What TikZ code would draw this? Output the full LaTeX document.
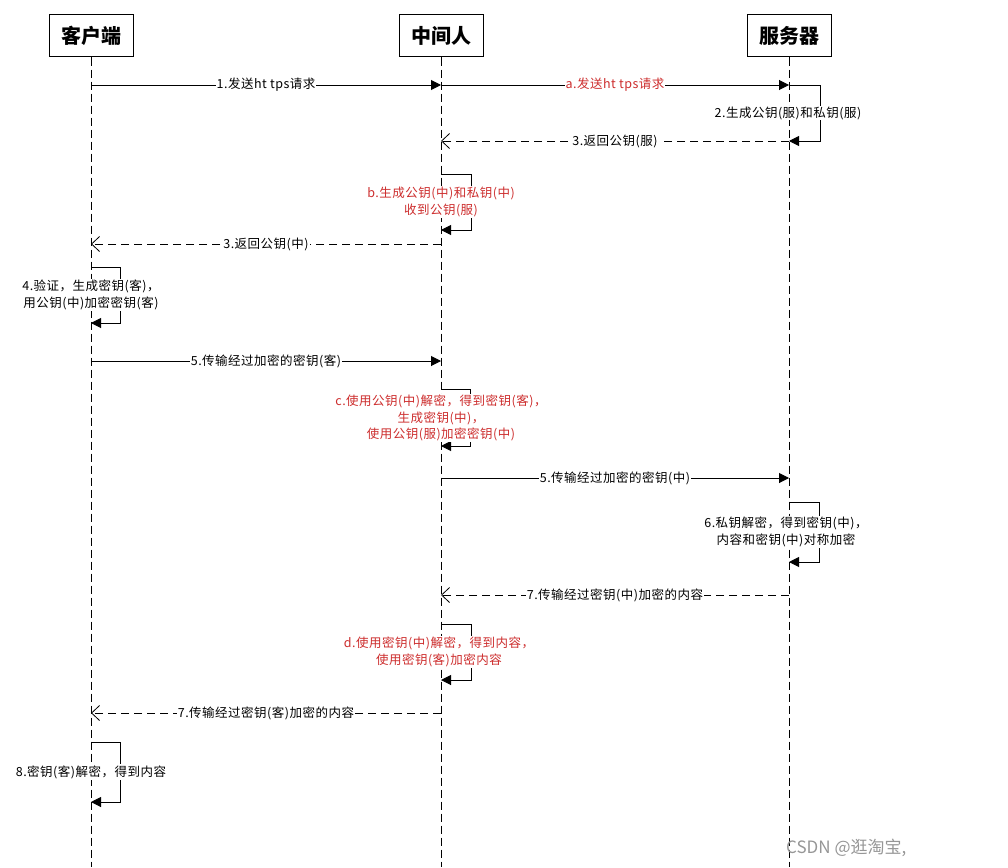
\documentclass[tikz,border=0pt]{standalone}
\usepackage{fontspec}
\setmainfont{Noto Sans CJK SC}
\newfontfamily\lblfont[LetterSpace=4]{Noto Sans CJK SC}
\usetikzlibrary{arrows.meta}
\definecolor{redtxt}{RGB}{205,45,45}
\definecolor{wm}{RGB}{150,150,150}
\begin{document}
\begin{tikzpicture}[x=1pt,y=-1pt,
  actor/.style={draw,line width=1pt,minimum width=84pt,minimum height=42pt,inner sep=0pt,font=\fontsize{20}{22}\selectfont\bfseries},
  life/.style={line width=1pt,dash pattern=on 8pt off 4pt},
  sync/.style={line width=1pt,-{Triangle[length=10pt,width=10pt]}},
  ret/.style={line width=1pt,dash pattern=on 8pt off 5pt,-{Straight Barb[length=8pt,width=15pt,line width=0.8pt]}},
  lbl/.style={fill=white,inner sep=1pt,font=\lblfont\fontsize{12.5}{14}\selectfont},
  note/.style={fill=white,inner sep=1pt,align=center,font=\lblfont\fontsize{12.5}{16.5}\selectfont},
  rednote/.style={note,text=redtxt}
]
\useasboundingbox (0,0) rectangle (1008,867);
% actors
\node[actor] (C) at (91,36) {客户端};
\node[actor] (M) at (441,36) {中间人};
\node[actor] (S) at (789,36) {服务器};
\coordinate (Cend) at (91,867);
\coordinate (Mend) at (441,867);
\coordinate (Send) at (789,867);
\draw[life] (C.south) -- (Cend);
\draw[life] (M.south) -- (Mend);
\draw[life] (S.south) -- (Send);
% coordinates on lifelines
\coordinate (c1) at (91,85);   \coordinate (m1) at (441,85);  \coordinate (s1) at (789,85);
\coordinate (s2) at (789,141); \coordinate (m2) at (441,141);
\coordinate (mb1) at (441,174); \coordinate (mb2) at (441,230);
\coordinate (m3) at (441,244); \coordinate (c3) at (91,244);
\coordinate (c41) at (91,267); \coordinate (c42) at (91,323);
\coordinate (c5) at (91,361);  \coordinate (m5) at (441,361);
\coordinate (mc1) at (441,389); \coordinate (mc2) at (441,446);
\coordinate (m6) at (441,478); \coordinate (s6) at (789,478);
\coordinate (s61) at (789,502); \coordinate (s62) at (789,562);
\coordinate (s7) at (789,595); \coordinate (m7) at (441,595);
\coordinate (md1) at (441,624); \coordinate (md2) at (441,680);
\coordinate (m8) at (441,713); \coordinate (c8) at (91,713);
\coordinate (c81) at (91,742); \coordinate (c82) at (91,802);
% messages
\draw[sync] (c1) -- node[lbl]{1.发送ht tps请求} (m1);
\draw[sync] (m1) -- node[lbl,text=redtxt]{a.发送ht tps请求} (s1);
\draw[sync] (s1) -- ++(31,0) |- (s2);
\node[note] (n2) at (788,113) {2.生成公钥(服)和私钥(服)};
\draw[ret] (s2) -- node[lbl]{3.返回公钥(服)} (m2);
\draw[sync] (mb1) -- ++(30,0) |- (mb2);
\node[rednote] (nb) at (441,202) {b.生成公钥(中)和私钥(中)\\收到公钥(服)};
\draw[ret] (m3) -- node[lbl]{3.返回公钥(中)} (c3);
\draw[sync] (c41) -- ++(29,0) |- (c42);
\node[note] (n4) at (91,295) {4.验证，生成密钥(客)，\\用公钥(中)加密密钥(客)};
\draw[sync] (c5) -- node[lbl]{5.传输经过加密的密钥(客)} (m5);
\draw[sync] (mc1) -- ++(29,0) |- (mc2);
\node[rednote] (nc) at (441,418) {c.使用公钥(中)解密，得到密钥(客)，\\生成密钥(中)，\\使用公钥(服)加密密钥(中)};
\draw[sync] (m6) -- node[lbl]{5.传输经过加密的密钥(中)} (s6);
\draw[sync] (s61) -- ++(30,0) |- (s62);
\node[note] (n6) at (786,532) {6.私钥解密，得到密钥(中)，\\内容和密钥(中)对称加密};
\draw[ret] (s7) -- node[lbl]{7.传输经过密钥(中)加密的内容} (m7);
\draw[sync] (md1) -- ++(30,0) |- (md2);
\node[rednote] (nd) at (439,652) {d.使用密钥(中)解密，得到内容，\\使用密钥(客)加密内容};
\draw[ret] (m8) -- node[lbl]{7.传输经过密钥(客)加密的内容} (c8);
\draw[sync] (c81) -- ++(29,0) |- (c82);
\node[note] (n8) at (91,772) {8.密钥(客)解密，得到内容};
% watermark
\node[text=wm,font=\fontsize{17}{19}\selectfont,inner sep=0pt,anchor=west] (wmk) at (786,848) {CSDN @逛淘宝,};
\end{tikzpicture}
\end{document}
